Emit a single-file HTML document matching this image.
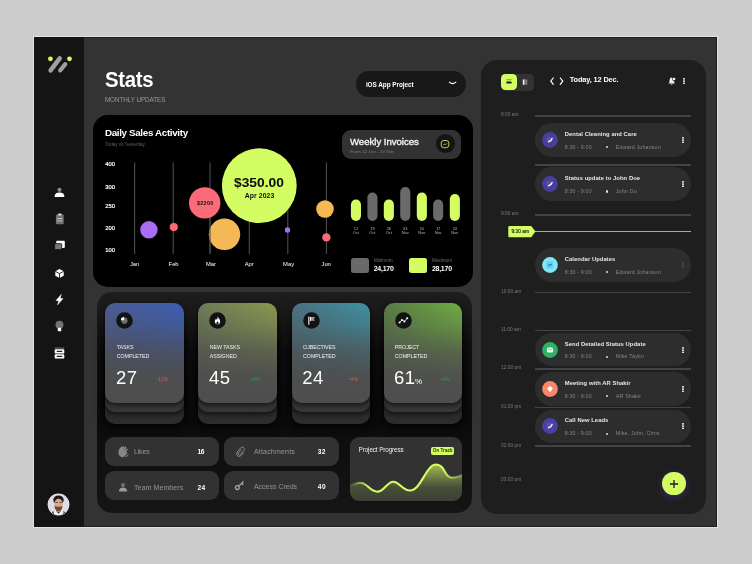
<!DOCTYPE html>
<html><head><meta charset="utf-8">
<style>
*{margin:0;padding:0;box-sizing:border-box}
html,body{width:752px;height:564px;overflow:hidden;background:#cdcdcd;font-family:"Liberation Sans",sans-serif;color:#fff}
.a{position:absolute}
.t{position:absolute;white-space:nowrap;line-height:1}
#frame{left:33px;top:36px;width:685px;height:492px;background:#e2e2e2}
#frame2{left:34px;top:37px;width:683px;height:490px;background:#333;overflow:hidden;box-shadow:inset 0 0 0 1px #1d1d1d}
#side{left:0;top:0;width:50px;height:490px;background:#141414}
#chart{left:93.3px;top:114.9px;width:380px;height:171.7px;background:#000;border-radius:15px}
#stats{left:96.6px;top:291.6px;width:375.3px;height:221.5px;border-radius:15px;background:linear-gradient(180deg,#1d1d1d 0%,#0f0f0f 30%,#0c0c0c 60%,#151515 100%)}
#right{left:481.1px;top:59.5px;width:225.4px;height:454px;border-radius:16px;background:#1e1e1e}
.card{position:absolute;width:78.6px;border-radius:10px}
.pill{position:absolute;background:#323232;border-radius:9px;height:28.6px}
.ev{position:absolute;left:534.8px;width:156.4px;height:33.5px;border-radius:17px;background:#2d2d2d}
.hl{position:absolute;left:534.8px;width:156.4px;height:1.5px;background:#434343}
.tm{position:absolute;left:501px;font-size:4.85px;color:#7a7a7a;white-space:nowrap;line-height:1}
.ic{position:absolute;left:6.9px;top:8.7px}
.et{position:absolute;left:30px;top:8.8px;font-size:5.85px;font-weight:bold;color:#e6e6e6;white-space:nowrap;line-height:1;letter-spacing:.05px}
.es{position:absolute;left:30px;top:21.6px;font-size:5.3px;color:#858585;white-space:nowrap;line-height:1;letter-spacing:.15px}
.eb{position:absolute;left:70.9px;top:23.2px;width:2.1px;height:2.1px;border-radius:50%;background:#ddd}
.en{position:absolute;left:81px;top:21.6px;font-size:5.35px;color:#858585;white-space:nowrap;line-height:1;letter-spacing:.15px}
.dots{position:absolute;width:2px}
.dots i{display:block;width:2px;height:1.65px;border-radius:40%;background:#e4e4e4;margin-bottom:.6px}
</style></head><body>
<div id="root" style="position:absolute;left:0;top:0;width:752px;height:564px;will-change:transform">
<div class="a" id="frame"></div>
<div class="a" id="frame2">
  <div class="a" id="side"></div>
</div>

<!-- logo -->
<svg class="a" style="left:34px;top:40px" width="50" height="45" viewBox="34 40 50 45">
  <circle cx="50.4" cy="58.8" r="2.4" fill="#d6fb5c"></circle><circle cx="69.5" cy="58.8" r="2.4" fill="#d6fb5c"></circle>
  <line x1="59.7" y1="58.3" x2="50.6" y2="70.4" stroke="#9e9e9e" stroke-width="4.5" stroke-linecap="round"></line>
  <line x1="65.3" y1="64.2" x2="60.2" y2="70.4" stroke="#9e9e9e" stroke-width="4.2" stroke-linecap="round"></line>
</svg>

<!-- side icons -->
<svg class="a" style="left:34px;top:175px" width="50" height="200" viewBox="34 175 50 200">
  <circle cx="59.5" cy="189.8" r="2.1" fill="#8a8a8a"></circle>
  <path d="M54.6 197 Q54.6 192.6 59.5 192.6 Q64.4 192.6 64.4 197 Z" fill="#fff"></path>
  <rect x="55.9" y="214.6" width="7.8" height="9.6" rx="1" fill="#727272"></rect><rect x="58" y="213.4" width="3.6" height="2.2" rx=".8" fill="#ddd"></rect>
  <rect x="57.2" y="218" width="5.2" height=".9" fill="#c8c8c8"></rect><rect x="57.2" y="220.4" width="5.2" height=".9" fill="#c8c8c8"></rect>
  <rect x="56.2" y="240.7" width="8.6" height="7.4" rx="1" fill="#fff"></rect><rect x="54.7" y="243.6" width="7" height="6" rx=".8" fill="#777" stroke="#141414" stroke-width=".8"></rect>
  <path d="M59.5 269 L63.7 271.3 L63.7 275.8 L59.5 278.1 L55.3 275.8 L55.3 271.3 Z" fill="#fff"></path><path d="M59.5 278.1 L59.5 273.6 L63.7 271.3 M59.5 273.6 L55.3 271.3" stroke="#141414" stroke-width=".9" fill="none"></path>
  <path d="M61.3 294.4 L56 300.5 L58.9 300.7 L57.6 304.8 L63 298.6 L60.1 298.4 Z" fill="#fff" stroke="#fff" stroke-width=".5" stroke-linejoin="round"></path>
  <circle cx="59.5" cy="324.8" r="4" fill="#747474"></circle><rect x="57.8" y="327.8" width="3.4" height="3.4" fill="#fff"></rect>
  <rect x="54.7" y="347.6" width="9.6" height="1" fill="#777"></rect><rect x="54.7" y="349.2" width="9.6" height="4.4" rx="1.2" fill="#fff"></rect><rect x="54.7" y="354.2" width="9.6" height="4.4" rx="1.2" fill="#fff"></rect>
  <rect x="56.6" y="350.8" width="5.8" height="1.2" rx=".6" fill="#222"></rect><rect x="56.6" y="355.8" width="5.8" height="1.2" rx=".6" fill="#222"></rect>
</svg>

<!-- avatar -->
<svg class="a" style="left:46px;top:492px" width="25" height="25" viewBox="-12.5 -12.5 25 25">
  <defs><clipPath id="avc"><circle cx="0" cy="0" r="10.5"></circle></clipPath><filter id="avb" x="-20%" y="-20%" width="140%" height="140%"><feGaussianBlur stdDeviation=".45"></feGaussianBlur></filter></defs>
  <circle cx="0" cy="0" r="10.9" fill="#e6e7ea"></circle>
  <g clip-path="url(#avc)"><g filter="url(#avb)">
    <rect x="-12" y="-12" width="24" height="24" fill="#dcdde2"></rect>
    <path d="M-7.5 11 L-6.5 7.6 L-2.6 6.2 L2.8 6.2 L6.6 7.6 L7.6 11 Z" fill="#262833"></path>
    <path d="M-3.4 5.2 L0 9.2 L3.6 5.2 L5.2 8 L3 11 L-3 11 L-5 8 Z" fill="#f2f2f4"></path>
    <rect x="-2.2" y="3" width="4.6" height="4.6" fill="#c98f78"></rect>
    <ellipse cx="0" cy="-4.4" rx="5.2" ry="4.6" fill="#1c1614"></ellipse>
    <ellipse cx="0" cy="-.6" rx="4.1" ry="5.4" fill="#dba88f"></ellipse>
    <path d="M-4.2 -3.8 Q-3.4 -6.4 0 -6.2 Q3.6 -6.4 4.3 -3.8 Q4.6 -7.6 0 -8.4 Q-4.6 -7.6 -4.2 -3.8 Z" fill="#1c1614"></path>
    <path d="M-4 1 Q-2.6 2.6 0 2.2 Q2.6 2.6 4 1 Q4.2 4.6 1.6 6.4 Q0 7.2 -1.6 6.4 Q-4.2 4.6 -4 1 Z" fill="#70463a"></path>
    <rect x="-3" y="-2.6" width="2.2" height=".8" fill="#3a2a26"></rect><rect x="1" y="-2.6" width="2.2" height=".8" fill="#3a2a26"></rect>
  </g></g>
</svg>

<!-- header -->
<div class="t" style="left:104.9px;top:69.3px;font-size:21.6px;font-weight:bold;letter-spacing:-.3px;transform:scaleX(.94);transform-origin:0 0">Stats</div>
<div class="t" style="left:104.9px;top:96.5px;font-size:6.3px;color:#9a9a9a;letter-spacing:-.05px">MONTHLY UPDATES</div>
<div class="a" style="left:355.6px;top:71px;width:110.5px;height:26px;border-radius:13px;background:#181818"></div>
<div class="t" style="left:365.9px;top:82.1px;font-size:6.4px;font-weight:bold;letter-spacing:-.05px">iOS App Project</div>
<svg class="a" style="left:446px;top:79px" width="14" height="8" viewBox="0 0 14 8"><path d="M3.4 3.2 Q6.6 6.2 9.8 3.2" stroke="#fff" stroke-width="1.15" fill="none" stroke-linecap="round"></path></svg>

<!-- chart panel -->
<div class="a" id="chart"></div>
<div class="t" style="left:104.9px;top:127.8px;font-size:9.8px;font-weight:bold;letter-spacing:-.33px">Daily Sales Activity</div>
<div class="t" style="left:105.3px;top:142.7px;font-size:4.6px;color:#606060">Today vs Yesterday</div>
<div class="t" style="left:105.3px;top:161.5px;font-size:5.8px;-webkit-text-stroke:.2px #fff">400</div>
<div class="t" style="left:105.3px;top:184.5px;font-size:5.8px;-webkit-text-stroke:.2px #fff">300</div>
<div class="t" style="left:105.3px;top:203.8px;font-size:5.8px;-webkit-text-stroke:.2px #fff">250</div>
<div class="t" style="left:105.3px;top:226.2px;font-size:5.8px;-webkit-text-stroke:.2px #fff">200</div>
<div class="t" style="left:105.3px;top:247.8px;font-size:5.8px;-webkit-text-stroke:.2px #fff">100</div>
<svg class="a" style="left:94px;top:140px" width="250" height="130" viewBox="94 140 250 130">
  <g stroke="#4c4c4c" stroke-width="1.1">
    <line x1="134.6" y1="162.6" x2="134.6" y2="254"></line><line x1="173.2" y1="162.6" x2="173.2" y2="254"></line>
    <line x1="210" y1="162.6" x2="210" y2="254"></line><line x1="249.3" y1="162.6" x2="249.3" y2="254"></line>
    <line x1="287.8" y1="162.6" x2="287.8" y2="254"></line><line x1="326.4" y1="162.6" x2="326.4" y2="254"></line>
  </g>
  <circle cx="148.9" cy="229.8" r="8.7" fill="#ab6cf6"></circle>
  <circle cx="173.8" cy="227.1" r="4.1" fill="#fa6b78"></circle>
  <circle cx="224.5" cy="234.3" r="15.7" fill="#f4b955"></circle>
  <line x1="210" y1="218" x2="210" y2="254" stroke="#4c4c4c" stroke-width="1.1"></line>
  <circle cx="204.7" cy="202.9" r="15.7" fill="#fb6a78"></circle>
  <circle cx="259.3" cy="185.7" r="37.4" fill="#d4fc63"></circle>
  <circle cx="287.5" cy="230" r="2.7" fill="#ab6cf6"></circle>
  <circle cx="325" cy="209" r="8.8" fill="#f4b955"></circle>
  <circle cx="326.4" cy="237.4" r="4.2" fill="#fa6b78"></circle>
</svg>
<div class="t" style="left:234.3px;top:176.8px;font-size:12.4px;font-weight:bold;color:#0c0c0c;transform:scaleX(1.114);transform-origin:0 0">$350.00</div>
<div class="t" style="left:244.8px;top:193px;font-size:6.9px;font-weight:bold;color:#111;letter-spacing:.05px">Apr 2023</div>
<div class="t" style="left:197px;top:200.9px;font-size:5.4px;font-weight:bold;color:#111;letter-spacing:.3px">$2200</div>
<div class="t" style="left:129px;top:262.2px;font-size:5.8px;width:11.2px;text-align:center">Jan</div>
<div class="t" style="left:168px;top:262.2px;font-size:5.8px;width:11.2px;text-align:center">Feb</div>
<div class="t" style="left:205.4px;top:262.2px;font-size:5.8px;width:11.2px;text-align:center">Mar</div>
<div class="t" style="left:243.6px;top:262.2px;font-size:5.8px;width:11.2px;text-align:center">Apr</div>
<div class="t" style="left:282.6px;top:262.2px;font-size:5.8px;width:12px;text-align:center">May</div>
<div class="t" style="left:320.6px;top:262.2px;font-size:5.8px;width:11.2px;text-align:center">Jun</div>

<!-- weekly invoices -->
<div class="a" style="left:342.3px;top:130.2px;width:119.2px;height:28.6px;border-radius:9px;background:#323232"></div>
<div class="t" style="left:350px;top:136.8px;font-size:9.6px;letter-spacing:-.02px;-webkit-text-stroke:.35px #f4f4f4;color:#f4f4f4">Weekly Invoices</div>
<div class="t" style="left:350.3px;top:149.6px;font-size:4.4px;color:#7c7c7c;letter-spacing:.1px">From 12 Oct - 24 Nov</div>
<div class="a" style="left:435.9px;top:134.1px;width:18.8px;height:18.8px;border-radius:50%;background:#141414"></div>
<svg class="a" style="left:440.3px;top:138.5px" width="10" height="10" viewBox="0 0 10 10"><rect x="1.2" y="1.5" width="7.6" height="7.2" rx="2.6" fill="none" stroke="#b2d652" stroke-width="1"></rect><path d="M3.2 6 Q4.4 4.8 5.2 5.4 Q6 5.8 6.9 4.5" stroke="#b2d652" stroke-width=".9" fill="none"></path></svg>
<svg class="a" style="left:345px;top:180px" width="125" height="60" viewBox="345 180 125 60">
  <rect x="350.9" y="199.6" width="10.1" height="21.3" rx="5.05" fill="#d4fc63"></rect>
  <rect x="367.4" y="192.4" width="10.1" height="28.5" rx="5.05" fill="#6a6a6a"></rect>
  <rect x="383.8" y="199.6" width="10.1" height="21.3" rx="5.05" fill="#d4fc63"></rect>
  <rect x="400.2" y="187" width="10.1" height="33.9" rx="5.05" fill="#6a6a6a"></rect>
  <rect x="416.8" y="192.4" width="10.1" height="28.5" rx="5.05" fill="#d4fc63"></rect>
  <rect x="433.1" y="199.6" width="10.1" height="21.3" rx="5.05" fill="#6a6a6a"></rect>
  <rect x="449.8" y="194" width="10.1" height="26.9" rx="5.05" fill="#d4fc63"></rect>
</svg>
<div id="blab"><div class="t" style="left:347.9px;top:226.6px;width:16px;text-align:center;font-size:3.9px;color:#b8b8b8">12</div><div class="t" style="left:347.9px;top:231px;width:16px;text-align:center;font-size:3.9px;color:#b8b8b8">Oct</div><div class="t" style="left:364.4px;top:226.6px;width:16px;text-align:center;font-size:3.9px;color:#b8b8b8">19</div><div class="t" style="left:364.4px;top:231px;width:16px;text-align:center;font-size:3.9px;color:#b8b8b8">Oct</div><div class="t" style="left:380.8px;top:226.6px;width:16px;text-align:center;font-size:3.9px;color:#b8b8b8">26</div><div class="t" style="left:380.8px;top:231px;width:16px;text-align:center;font-size:3.9px;color:#b8b8b8">Oct</div><div class="t" style="left:397.2px;top:226.6px;width:16px;text-align:center;font-size:3.9px;color:#b8b8b8">03</div><div class="t" style="left:397.2px;top:231px;width:16px;text-align:center;font-size:3.9px;color:#b8b8b8">Nov</div><div class="t" style="left:413.8px;top:226.6px;width:16px;text-align:center;font-size:3.9px;color:#b8b8b8">10</div><div class="t" style="left:413.8px;top:231px;width:16px;text-align:center;font-size:3.9px;color:#b8b8b8">Nov</div><div class="t" style="left:430.1px;top:226.6px;width:16px;text-align:center;font-size:3.9px;color:#b8b8b8">17</div><div class="t" style="left:430.1px;top:231px;width:16px;text-align:center;font-size:3.9px;color:#b8b8b8">Nov</div><div class="t" style="left:446.8px;top:226.6px;width:16px;text-align:center;font-size:3.9px;color:#b8b8b8">24</div><div class="t" style="left:446.8px;top:231px;width:16px;text-align:center;font-size:3.9px;color:#b8b8b8">Nov</div></div>
<div class="a" style="left:351px;top:257.8px;width:18.3px;height:15px;border-radius:2.5px;background:#6a6a6a"></div>
<div class="a" style="left:408.8px;top:257.8px;width:18.3px;height:15px;border-radius:2.5px;background:#d4fc63"></div>
<div class="t" style="left:373.9px;top:258.8px;font-size:4.6px;color:#6e6e6e">Minimum</div>
<div class="t" style="left:432.1px;top:258.8px;font-size:4.6px;color:#6e6e6e">Maximum</div>
<div class="t" style="left:373.7px;top:265.2px;font-size:7px;font-weight:bold;letter-spacing:-.25px">24,170</div>
<div class="t" style="left:431.9px;top:265.2px;font-size:7px;font-weight:bold;letter-spacing:-.25px">28,170</div>

<!-- stats container -->
<div class="a" id="stats"></div>
<div id="cards"><div class="card" style="left:102.4px;top:316px;width:85px;height:112px;border-radius:14px;background:rgba(0,0,0,.35);filter:blur(5px)"></div><div class="card" style="left:105.4px;top:340px;height:83.7px;background:linear-gradient(180deg,#1c1c1c 70%,#2b2b2b 90%,#2d2d2d);box-shadow:0 3px 6px rgba(0,0,0,.55)"></div><div class="card" style="left:105.4px;top:330px;height:82.3px;background:linear-gradient(180deg,#222 80%,#343434 92%,#383838);box-shadow:0 2px 5px rgba(0,0,0,.6)"></div><div class="card" style="left:105.4px;top:303.4px;height:99.6px;background:linear-gradient(180deg,rgba(76,76,76,.04) 0%,rgba(76,76,76,.3) 22%,rgba(76,76,76,.72) 48%,rgba(77,77,77,.95) 72%,#4e4e4e 90%),linear-gradient(90deg,#4b5c96,#3a5fb8);box-shadow:0 2px 5px rgba(0,0,0,.55)"></div><svg class="a" style="left:116.4px;top:311.7px" width="17" height="17" viewBox="0 0 17 17"><circle cx="8.5" cy="8.5" r="8.3" fill="#131313"></circle><circle cx="8.5" cy="8.7" r="3.1" fill="#6e6e6e"></circle><path d="M8.1 8.3 L4.9 8.3 A3.2 3.2 0 0 1 8.1 5.1 Z" fill="#fff"></path></svg><div class="t" style="left:116.7px;top:345.2px;font-size:5.3px;color:#f0f0f0;letter-spacing:-.05px">TASKS</div><div class="t" style="left:116.7px;top:353.7px;font-size:5.3px;color:#f0f0f0;letter-spacing:-.05px">COMPLETED</div><div class="t" style="left:115.9px;top:368.6px;font-size:18.5px;color:#fff;letter-spacing:.5px">27</div><div class="t" style="left:156.60000000000002px;top:376.9px;font-size:5px;color:#e25555">-12%</div><div class="card" style="left:195.4px;top:316px;width:85px;height:112px;border-radius:14px;background:rgba(0,0,0,.35);filter:blur(5px)"></div><div class="card" style="left:198.4px;top:340px;height:83.7px;background:linear-gradient(180deg,#1c1c1c 70%,#2b2b2b 90%,#2d2d2d);box-shadow:0 3px 6px rgba(0,0,0,.55)"></div><div class="card" style="left:198.4px;top:330px;height:82.3px;background:linear-gradient(180deg,#222 80%,#343434 92%,#383838);box-shadow:0 2px 5px rgba(0,0,0,.6)"></div><div class="card" style="left:198.4px;top:303.4px;height:99.6px;background:linear-gradient(180deg,rgba(76,76,76,.04) 0%,rgba(76,76,76,.3) 22%,rgba(76,76,76,.72) 48%,rgba(77,77,77,.95) 72%,#4e4e4e 90%),linear-gradient(90deg,#6f7c58,#8c9d50);box-shadow:0 2px 5px rgba(0,0,0,.55)"></div><svg class="a" style="left:209.4px;top:311.7px" width="17" height="17" viewBox="0 0 17 17"><circle cx="8.5" cy="8.5" r="8.3" fill="#131313"></circle><path d="M8.6 4.4 C9.2 6 11.2 7 11.2 9.4 C11.2 11.2 10 12.4 8.5 12.4 C7 12.4 5.8 11.2 5.8 9.6 C5.8 8.2 6.8 7.6 7 6.6 C7.6 7 7.8 7.6 7.8 8 C8.4 7.2 8.8 5.8 8.6 4.4 Z" fill="#fff"></path><path d="M8.5 12.4 C7.6 12.4 7.2 11.6 7.4 10.8 C7.6 10.2 8.3 9.9 8.5 9.2 C8.9 9.9 9.6 10.2 9.6 11 C9.6 11.8 9.2 12.4 8.5 12.4 Z" fill="#141414"></path></svg><div class="t" style="left:209.70000000000002px;top:345.2px;font-size:5.3px;color:#f0f0f0;letter-spacing:-.05px">NEW TASKS</div><div class="t" style="left:209.70000000000002px;top:353.7px;font-size:5.3px;color:#f0f0f0;letter-spacing:-.05px">ASSIGNED</div><div class="t" style="left:208.9px;top:368.6px;font-size:18.5px;color:#fff;letter-spacing:.5px">45</div><div class="t" style="left:250.4px;top:376.9px;font-size:5px;color:#2e9a52">+8%</div><div class="card" style="left:288.8px;top:316px;width:85px;height:112px;border-radius:14px;background:rgba(0,0,0,.35);filter:blur(5px)"></div><div class="card" style="left:291.8px;top:340px;height:83.7px;background:linear-gradient(180deg,#1c1c1c 70%,#2b2b2b 90%,#2d2d2d);box-shadow:0 3px 6px rgba(0,0,0,.55)"></div><div class="card" style="left:291.8px;top:330px;height:82.3px;background:linear-gradient(180deg,#222 80%,#343434 92%,#383838);box-shadow:0 2px 5px rgba(0,0,0,.6)"></div><div class="card" style="left:291.8px;top:303.4px;height:99.6px;background:linear-gradient(180deg,rgba(76,76,76,.04) 0%,rgba(76,76,76,.3) 22%,rgba(76,76,76,.72) 48%,rgba(77,77,77,.95) 72%,#4e4e4e 90%),linear-gradient(90deg,#4b7382,#3e94a8);box-shadow:0 2px 5px rgba(0,0,0,.55)"></div><svg class="a" style="left:302.8px;top:311.7px" width="17" height="17" viewBox="0 0 17 17"><circle cx="8.5" cy="8.5" r="8.3" fill="#131313"></circle><rect x="5.3" y="4.6" width="1.1" height="8" fill="#fff"></rect><path d="M7 5 H12 L10.8 6.9 L12 8.8 H7 Z" fill="#9a9a9a"></path><rect x="7" y="5" width="1" height="3.8" fill="#fff"></rect></svg><div class="t" style="left:303.1px;top:345.2px;font-size:5.3px;color:#f0f0f0;letter-spacing:-.05px">OJBECTIVES</div><div class="t" style="left:303.1px;top:353.7px;font-size:5.3px;color:#f0f0f0;letter-spacing:-.05px">COMPLETED</div><div class="t" style="left:302.3px;top:368.6px;font-size:18.5px;color:#fff;letter-spacing:.5px">24</div><div class="t" style="left:349.2px;top:376.9px;font-size:5px;color:#e25555">-4%</div><div class="card" style="left:380.5px;top:316px;width:85px;height:112px;border-radius:14px;background:rgba(0,0,0,.35);filter:blur(5px)"></div><div class="card" style="left:383.5px;top:340px;height:83.7px;background:linear-gradient(180deg,#1c1c1c 70%,#2b2b2b 90%,#2d2d2d);box-shadow:0 3px 6px rgba(0,0,0,.55)"></div><div class="card" style="left:383.5px;top:330px;height:82.3px;background:linear-gradient(180deg,#222 80%,#343434 92%,#383838);box-shadow:0 2px 5px rgba(0,0,0,.6)"></div><div class="card" style="left:383.5px;top:303.4px;height:99.6px;background:linear-gradient(180deg,rgba(76,76,76,.04) 0%,rgba(76,76,76,.3) 22%,rgba(76,76,76,.72) 48%,rgba(77,77,77,.95) 72%,#4e4e4e 90%),linear-gradient(90deg,#5b7d47,#70b240);box-shadow:0 2px 5px rgba(0,0,0,.55)"></div><svg class="a" style="left:394.5px;top:311.7px" width="17" height="17" viewBox="0 0 17 17"><circle cx="8.5" cy="8.5" r="8.3" fill="#131313"></circle><path d="M4.6 10.6 L6.9 8 L9.4 9.4 L12.2 6.2" stroke="#ddd" stroke-width=".9" fill="none"></path><circle cx="4.6" cy="10.6" r="1" fill="#fff"></circle><circle cx="6.9" cy="8" r="1" fill="#fff"></circle><circle cx="9.4" cy="9.4" r="1" fill="#fff"></circle><circle cx="12.2" cy="6.2" r="1" fill="#fff"></circle></svg><div class="t" style="left:394.8px;top:345.2px;font-size:5.3px;color:#f0f0f0;letter-spacing:-.05px">PROJECT</div><div class="t" style="left:394.8px;top:353.7px;font-size:5.3px;color:#f0f0f0;letter-spacing:-.05px">COMPLETED</div><div class="t" style="left:394px;top:368.6px;font-size:18.5px;color:#fff;letter-spacing:.5px">61<span style="font-size:8px;letter-spacing:0;margin-left:-.6px">%</span></div><div class="t" style="left:439.7px;top:376.9px;font-size:5px;color:#2e9a52">+4%</div></div>

<!-- pills -->
<div class="pill" style="left:105px;top:437.3px;width:114px"></div>
<div class="pill" style="left:105px;top:471.4px;width:114px"></div>
<div class="pill" style="left:224px;top:437.3px;width:114.7px"></div>
<div class="pill" style="left:224px;top:471.4px;width:114.7px"></div>
<div class="t" style="left:133.9px;top:448.2px;font-size:7px;color:#959595;letter-spacing:-.15px">Likes</div>
<div class="t" style="left:133.9px;top:483.6px;font-size:7px;color:#959595;letter-spacing:.1px">Team Members</div>
<div class="t" style="left:253.9px;top:447.8px;font-size:7px;color:#959595;letter-spacing:.2px">Attachments</div>
<div class="t" style="left:253.9px;top:482.8px;font-size:7px;color:#959595;letter-spacing:0px">Access Creds</div>
<div class="t" style="left:197.4px;top:449.2px;font-size:6.6px;font-weight:bold;letter-spacing:-.3px">16</div>
<div class="t" style="left:197.4px;top:484.8px;font-size:6.6px;font-weight:bold;letter-spacing:.4px">24</div>
<div class="t" style="left:317.7px;top:449.2px;font-size:6.6px;font-weight:bold;letter-spacing:.3px">32</div>
<div class="t" style="left:317.7px;top:484.2px;font-size:6.6px;font-weight:bold;letter-spacing:.6px">40</div>
<svg class="a" style="left:116px;top:444px" width="14" height="16" viewBox="116 444 14 16">
 <path d="M119.4 450.2 L121.6 447.4 M121 450 L123.6 447 M122.8 450.6 L125.6 447.6 M124.6 451.6 L127 449.2" stroke="#8e8e8e" stroke-width="1.5" stroke-linecap="round" fill="none"></path>
 <path d="M118.7 450.4 Q117.6 453.4 119.4 455.8 Q121.6 458.2 124.4 456.6 L127.4 453 L126 450.8 L122 449.6 Z" fill="#868686"></path>
 <path d="M126 456.8 L127.9 454.8" stroke="#9a9a9a" stroke-width="1" stroke-linecap="round"></path>
</svg>
<svg class="a" style="left:117px;top:480px" width="13" height="13" viewBox="117 480 13 13"><circle cx="123" cy="485" r="1.95" fill="#757575"></circle><path d="M119 491.4 Q119 487.6 123 487.6 Q127 487.6 127 491.4 Z" fill="#9a9a9a"></path></svg>
<svg class="a" style="left:233px;top:444px" width="15" height="16" viewBox="233 444 15 16"><path d="M241.2 449.6 L238.6 452.6 Q237.6 453.8 238.6 454.6 Q239.6 455.2 240.6 454.2 L243.8 450.4 Q245 448.6 243.6 447.4 Q242.2 446.4 240.8 447.8 L237.2 452 Q235.8 454.2 237.4 455.8 Q239.2 457.2 241 455.6 L243.6 452.6" stroke="#8a8a8a" stroke-width="1" fill="none" stroke-linecap="round"></path></svg>
<svg class="a" style="left:233px;top:478px" width="14" height="14" viewBox="233 478 14 14"><circle cx="237.3" cy="487.6" r="1.9" fill="none" stroke="#a4a4a4" stroke-width="1.3"></circle><path d="M238.8 486.1 L243.2 481.7 M241.6 483.4 L242.8 484.5" stroke="#a4a4a4" stroke-width="1.3" fill="none" stroke-linecap="round"></path></svg>

<!-- project progress -->
<div class="a" style="left:349.9px;top:437.1px;width:112.6px;height:64px;border-radius:9px;background:#323232;overflow:hidden">
<svg class="a" style="left:0;top:0" width="112.6" height="64" viewBox="349.9 437.1 112.6 64">
  <defs><linearGradient id="pg" x1="0" y1="0" x2="0" y2="1"><stop offset="0" stop-color="#cdf45e" stop-opacity=".72"></stop><stop offset=".35" stop-color="#c2e85a" stop-opacity=".42"></stop><stop offset=".62" stop-color="#b6d956" stop-opacity=".17"></stop><stop offset="1" stop-color="#a8c850" stop-opacity=".09"></stop></linearGradient>
  <linearGradient id="ps" x1="0" y1="0" x2="1" y2="0"><stop offset="0" stop-color="#d4fc63" stop-opacity="0"></stop><stop offset=".16" stop-color="#d4fc63" stop-opacity="1"></stop><stop offset=".82" stop-color="#d4fc63" stop-opacity="1"></stop><stop offset="1" stop-color="#d4fc63" stop-opacity=".25"></stop></linearGradient></defs>
  <path id="wv" d="M349.9 485.2 C354 484.8 357 482.6 360.5 482.8 C367 483 370 491.8 377.2 491.8 C384 491.8 387 481.8 393.1 481.8 C399.5 481.8 402 490.6 409.8 490.6 C421 490.6 426 464.6 435.9 464.6 C445 464.6 444 476.6 450.5 477.6 C455 478.4 459 476 462.5 475 L462.5 501.1 L349.9 501.1 Z" fill="url(#pg)"></path>
  <path d="M349.9 485.2 C354 484.8 357 482.6 360.5 482.8 C367 483 370 491.8 377.2 491.8 C384 491.8 387 481.8 393.1 481.8 C399.5 481.8 402 490.6 409.8 490.6 C421 490.6 426 464.6 435.9 464.6 C445 464.6 444 476.6 450.5 477.6 C455 478.4 459 476 462.5 475" fill="none" stroke="url(#ps)" stroke-width="2.1"></path>
</svg>
</div>
<div class="t" style="left:358.6px;top:446.6px;font-size:6.3px;color:#f2f2f2;letter-spacing:-.1px">Project Progress</div>
<div class="a" style="left:430.9px;top:447px;width:23.6px;height:7.8px;border-radius:2px;background:#d4fc63"></div>
<div class="t" style="left:430.9px;top:448.8px;width:23.6px;text-align:center;font-size:4.5px;color:#2a3210;letter-spacing:.2px;-webkit-text-stroke:.15px #2a3210">On Track</div>

<!-- right panel -->
<div class="a" id="right"></div>
<div class="a" style="left:501.2px;top:73.8px;width:32.8px;height:17px;border-radius:4.5px;background:#323232"></div>
<div class="a" style="left:501.2px;top:73.7px;width:16.3px;height:16.6px;border-radius:4.5px;background:#d4fc63"></div>
<svg class="a" style="left:505.4px;top:78.2px" width="8" height="8" viewBox="0 0 8 8"><rect x="1.4" y="1.5" width="5.2" height=".7" fill="#5a6828"></rect><rect x="1.4" y="3.5" width="5.2" height="2.1" rx=".4" fill="#1b1b1b"></rect></svg>
<svg class="a" style="left:521px;top:78.2px" width="8" height="8" viewBox="0 0 8 8"><rect x="1.8" y="1.4" width="1.8" height="5.4" fill="#eee"></rect><rect x="4.4" y="1.4" width="1.8" height="5.4" fill="#888"></rect></svg>
<svg class="a" style="left:546px;top:75px" width="22" height="12" viewBox="0 0 22 12"><path d="M7.3 3 L4.8 6.2 L7.3 9.4 M14.3 3 L16.8 6.2 L14.3 9.4" stroke="#fff" stroke-width="1.2" fill="none" stroke-linecap="round" stroke-linejoin="round"></path></svg>
<div class="t" style="left:569.8px;top:76.1px;font-size:7.35px;font-weight:bold;letter-spacing:-.12px">Today, 12 Dec.</div>
<svg class="a" style="left:666px;top:75px" width="12" height="12" viewBox="666 75 12 12"><path d="M671.6 77.6 Q669.6 77.9 669.5 80.4 L669.3 82.4 L668.5 83.6 L675 83.6 L674.2 82.4 L674 80.4 Q673.9 77.9 671.6 77.6 Z" fill="#ededed"></path><path d="M670.7 83.9 Q671.7 85.4 672.8 83.9 Z" fill="#ededed"></path><circle cx="674" cy="79" r="1.9" fill="#1e1e1e"></circle><circle cx="674" cy="79" r="1.3" fill="#fff"></circle></svg>
<div class="dots" style="left:682.9px;top:78.2px"><svg width="2" height="6.2" viewBox="0 0 2 6.2" style="display:block"><rect x="0" y="0" width="2" height="1.7" rx=".6" fill="#e6e6e6"></rect><rect x="0" y="2.25" width="2" height="1.7" rx=".6" fill="#e6e6e6"></rect><rect x="0" y="4.5" width="2" height="1.7" rx=".6" fill="#e6e6e6"></rect></svg></div>
<div id="sched"><div class="ev" style="top:123.2px"><svg class="ic" width="16" height="16" viewBox="0 0 16 16"><circle cx="8" cy="8" r="7.9" fill="#4a3e9c"></circle><circle cx="7" cy="7.2" r="2.6" fill="#6a5fb4" opacity=".55"></circle><path d="M6.6 9.8 Q9.4 9.2 10.1 6.5" stroke="#f4f4e8" stroke-width="1.4" fill="none" stroke-linecap="round"></path></svg><div class="et">Dental Cleaning and Care</div><div class="es">8:30 - 9:00</div><div class="eb"></div><div class="en">Edward Johanson</div><div class="dots" style="left:147.3px;top:13.7px;"><svg width="2" height="6.2" viewBox="0 0 2 6.2" style="display:block"><rect x="0" y="0" width="2" height="1.7" rx=".6" fill="#e6e6e6"></rect><rect x="0" y="2.25" width="2" height="1.7" rx=".6" fill="#e6e6e6"></rect><rect x="0" y="4.5" width="2" height="1.7" rx=".6" fill="#e6e6e6"></rect></svg></div></div><div class="ev" style="top:167.3px"><svg class="ic" width="16" height="16" viewBox="0 0 16 16"><circle cx="8" cy="8" r="7.9" fill="#4a3e9c"></circle><circle cx="7" cy="7.2" r="2.6" fill="#6a5fb4" opacity=".55"></circle><path d="M6.6 9.8 Q9.4 9.2 10.1 6.5" stroke="#f4f4e8" stroke-width="1.4" fill="none" stroke-linecap="round"></path></svg><div class="et">Status update to John Doe</div><div class="es">8:30 - 9:00</div><div class="eb"></div><div class="en">John Do</div><div class="dots" style="left:147.3px;top:13.7px;"><svg width="2" height="6.2" viewBox="0 0 2 6.2" style="display:block"><rect x="0" y="0" width="2" height="1.7" rx=".6" fill="#e6e6e6"></rect><rect x="0" y="2.25" width="2" height="1.7" rx=".6" fill="#e6e6e6"></rect><rect x="0" y="4.5" width="2" height="1.7" rx=".6" fill="#e6e6e6"></rect></svg></div></div><div class="ev" style="top:248px"><svg class="ic" width="16" height="16" viewBox="0 0 16 16"><circle cx="8" cy="8" r="7.9" fill="#7de8f8"></circle><rect x="4.6" y="4.6" width="6.8" height="6.8" rx="1" fill="#69cdf0"></rect><path d="M6.2 8.8 Q7.6 7.4 9.8 7.4" stroke="#5a50c8" stroke-width="1.1" fill="none"></path></svg><div class="et">Calendar Updates</div><div class="es">8:30 - 9:00</div><div class="eb"></div><div class="en">Edward Johanson</div><div class="dots" style="left:147.3px;top:13.7px;opacity:.16"><svg width="2" height="6.2" viewBox="0 0 2 6.2" style="display:block"><rect x="0" y="0" width="2" height="1.7" rx=".6" fill="#e6e6e6"></rect><rect x="0" y="2.25" width="2" height="1.7" rx=".6" fill="#e6e6e6"></rect><rect x="0" y="4.5" width="2" height="1.7" rx=".6" fill="#e6e6e6"></rect></svg></div></div><div class="ev" style="top:332.9px"><svg class="ic" width="16" height="16" viewBox="0 0 16 16"><circle cx="8" cy="8" r="7.9" fill="#2bb262"></circle><rect x="4.9" y="5.6" width="6.2" height="4.8" rx="1" fill="#f4f4f4"></rect><path d="M5.4 6.4 L8 8.2 L10.6 6.4" stroke="#2bb262" stroke-width=".7" fill="none"></path></svg><div class="et">Send Detailed Status Update</div><div class="es">8:30 - 9:00</div><div class="eb"></div><div class="en">Mike Taylor</div><div class="dots" style="left:147.3px;top:13.7px;"><svg width="2" height="6.2" viewBox="0 0 2 6.2" style="display:block"><rect x="0" y="0" width="2" height="1.7" rx=".6" fill="#e6e6e6"></rect><rect x="0" y="2.25" width="2" height="1.7" rx=".6" fill="#e6e6e6"></rect><rect x="0" y="4.5" width="2" height="1.7" rx=".6" fill="#e6e6e6"></rect></svg></div></div><div class="ev" style="top:372px"><svg class="ic" width="16" height="16" viewBox="0 0 16 16"><circle cx="8" cy="8" r="7.9" fill="#fb8669"></circle><path d="M8 4.9 L10.9 7.6 L8 11.2 L5.1 7.6 Z" fill="#fff"></path></svg><div class="et">Meeting with AR Shakir</div><div class="es">8:30 - 9:00</div><div class="eb"></div><div class="en">AR Shakir</div><div class="dots" style="left:147.3px;top:13.7px;"><svg width="2" height="6.2" viewBox="0 0 2 6.2" style="display:block"><rect x="0" y="0" width="2" height="1.7" rx=".6" fill="#e6e6e6"></rect><rect x="0" y="2.25" width="2" height="1.7" rx=".6" fill="#e6e6e6"></rect><rect x="0" y="4.5" width="2" height="1.7" rx=".6" fill="#e6e6e6"></rect></svg></div></div><div class="ev" style="top:409.6px"><svg class="ic" width="16" height="16" viewBox="0 0 16 16"><circle cx="8" cy="8" r="7.9" fill="#4c3fa6"></circle><circle cx="7" cy="7.2" r="2.6" fill="#6a5fb4" opacity=".55"></circle><path d="M6.6 9.8 Q9.4 9.2 10.1 6.5" stroke="#f4f4e8" stroke-width="1.4" fill="none" stroke-linecap="round"></path></svg><div class="et">Call New Leads</div><div class="es">8:30 - 9:00</div><div class="eb"></div><div class="en">Mike, John, Chris</div><div class="dots" style="left:147.3px;top:13.7px;"><svg width="2" height="6.2" viewBox="0 0 2 6.2" style="display:block"><rect x="0" y="0" width="2" height="1.7" rx=".6" fill="#e6e6e6"></rect><rect x="0" y="2.25" width="2" height="1.7" rx=".6" fill="#e6e6e6"></rect><rect x="0" y="4.5" width="2" height="1.7" rx=".6" fill="#e6e6e6"></rect></svg></div></div><div class="tm" style="top:113.2px">8:00 am</div><div class="hl" style="top:115px"></div><div class="tm" style="top:212.3px">9:00 am</div><div class="hl" style="top:214.10000000000002px"></div><div class="tm" style="top:289.7px">10:00 am</div><div class="hl" style="top:291.5px"></div><div class="tm" style="top:327.9px">11:00 am</div><div class="hl" style="top:329.7px"></div><div class="tm" style="top:366.2px">12:00 pm</div><div class="hl" style="top:368px"></div><div class="tm" style="top:405.1px">01:00 pm</div><div class="hl" style="top:406.90000000000003px"></div><div class="tm" style="top:443.6px">02:00 pm</div><div class="hl" style="top:445.40000000000003px"></div><div class="tm" style="top:477.7px">03:00 pm</div><div class="hl" style="top:164.3px"></div></div>

<!-- 9:30 marker -->
<div class="a" style="left:534px;top:231px;width:157.2px;height:1.3px;background:#a8a8a8"></div>
<svg class="a" style="left:508px;top:225px" width="30" height="14" viewBox="508 225 30 14"><path d="M509.6 225.9 H531.2 L535.5 231.6 L531.2 237.3 H509.6 Q508.3 237.3 508.3 236 V227.2 Q508.3 225.9 509.6 225.9 Z" fill="#d4fc63"></path></svg>
<div class="t" style="left:511.4px;top:230px;font-size:4.8px;color:#1a200a;letter-spacing:.05px;-webkit-text-stroke:.15px #1a200a">9:30 am</div>

<!-- FAB -->
<div class="a" style="left:662.3px;top:472.1px;width:23.4px;height:23.4px;border-radius:50%;background:#d4fc63;box-shadow:0 2px 7px 1px rgba(70,60,160,.45)"></div>
<svg class="a" style="left:669px;top:478.8px" width="10" height="10" viewBox="0 0 10 10"><path d="M5 .9 V9.1 M.9 5 H9.1" stroke="#1a1a1a" stroke-width="1.3"></path></svg>

</div>


</body></html>
